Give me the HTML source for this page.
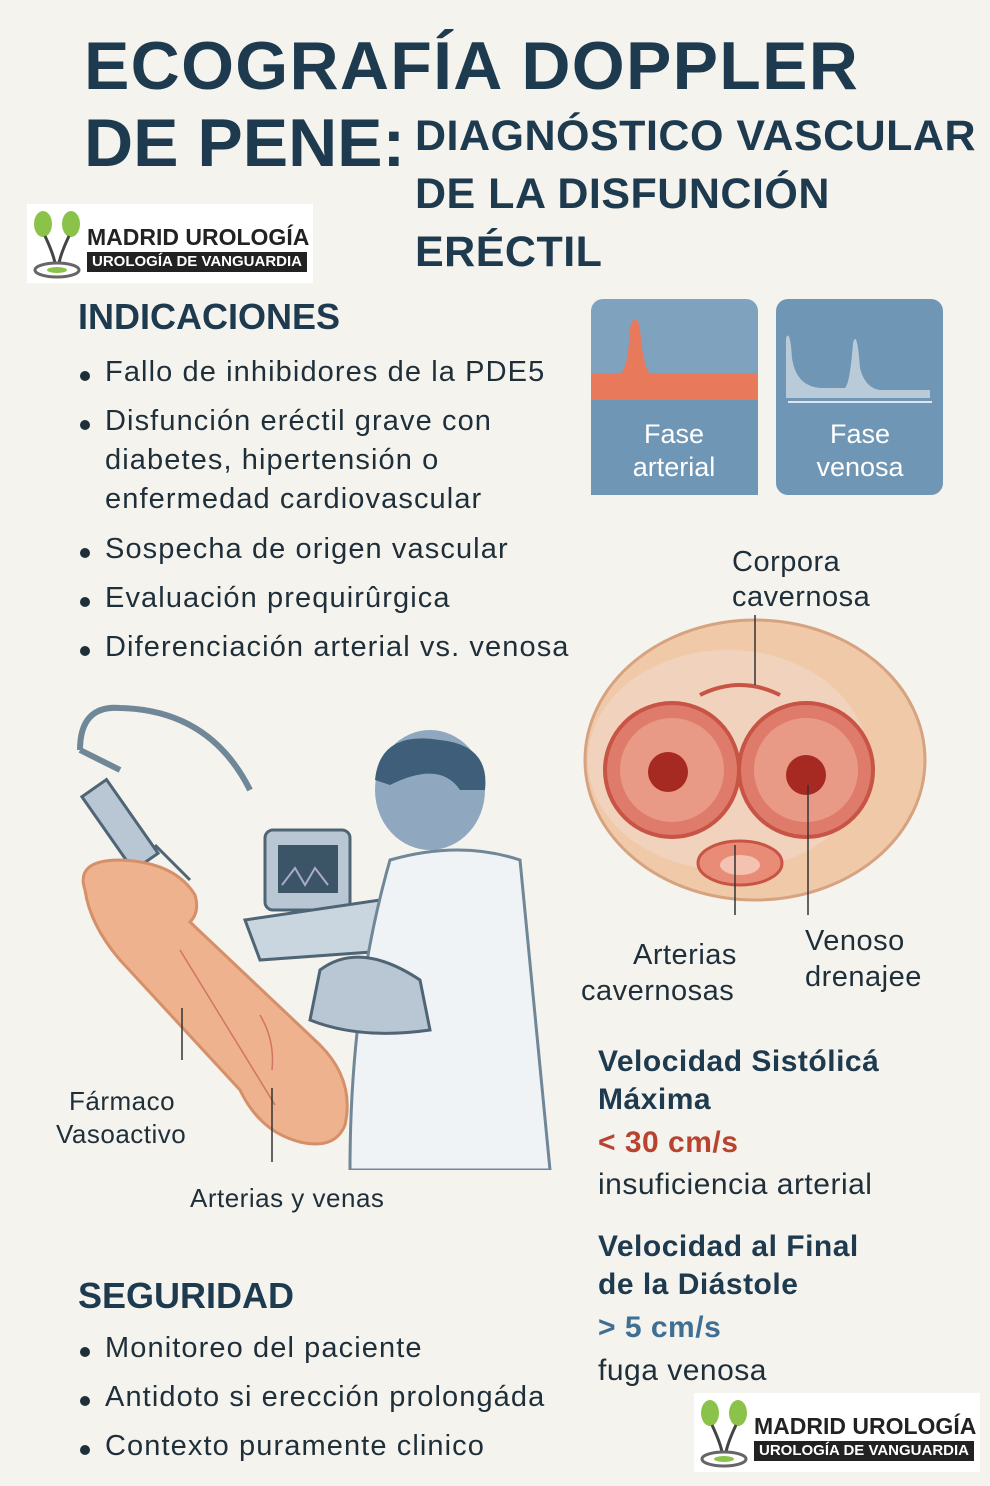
<!DOCTYPE html>
<html><head><meta charset="utf-8">
<style>
body{margin:0;background:#f5f3ee;}
#p{position:relative;width:990px;height:1486px;overflow:hidden;background:#f5f3ee;font-family:"Liberation Sans",sans-serif;color:#1f2f3a;}
.a{position:absolute;white-space:nowrap;}
.t1{font-weight:bold;color:#1e3a4f;font-size:68px;letter-spacing:1.3px;}
.t2{font-weight:bold;color:#1e3a4f;font-size:43px;letter-spacing:0.5px;}
.h{font-weight:bold;color:#1e3a4f;font-size:36px;}
.b{font-size:29px;color:#1f2f3a;letter-spacing:1.1px;}
.b::before{content:"";position:absolute;left:-25px;top:15px;width:10px;height:10px;border-radius:50%;background:#1f2f3a;}
.logo{position:absolute;background:#fff;}
.logo .n{position:absolute;left:60px;top:20px;font-weight:bold;font-size:23px;color:#222;}
.logo .s{position:absolute;left:60px;top:48px;width:220px;height:20px;background:#222;color:#fff;font-weight:bold;font-size:15px;text-align:center;line-height:20px;}
.r{font-size:30px;color:#1f2f3a;letter-spacing:0.5px;}
</style></head><body><div id="p">
<div class="a t1" style="left:84px;top:27px">ECOGRAFÍA DOPPLER</div>
<div class="a t1" style="left:84px;top:104px;letter-spacing:0">DE PENE:</div>
<div class="a t2" style="left:415px;top:112px">DIAGNÓSTICO VASCULAR</div>
<div class="a t2" style="left:415px;top:170px">DE LA DISFUNCIÓN</div>
<div class="a t2" style="left:415px;top:228px">ERÉCTIL</div>

<div class="logo" style="left:27px;top:204px;width:286px;height:79px">
<svg class="a" style="left:4px;top:4px" width="54" height="72"><ellipse cx="12" cy="16" rx="9" ry="13" fill="#8bc34a"/><ellipse cx="40" cy="16" rx="9" ry="13" fill="#8bc34a"/><path d="M14 28 Q22 45 24 55 M38 28 Q30 45 28 55" stroke="#444" stroke-width="3" fill="none"/><ellipse cx="26" cy="62" rx="22" ry="7" fill="none" stroke="#666" stroke-width="3"/><ellipse cx="26" cy="62" rx="10" ry="3" fill="#8bc34a"/></svg>
<div class="n">MADRID UROLOGÍA</div><div class="s">UROLOGÍA DE VANGUARDIA</div></div>

<div class="a h" style="left:78px;top:296px">INDICACIONES</div>
<div class="a b" style="left:105px;top:356px">Fallo de inhibidores de la PDE5</div>
<div class="a b" style="left:105px;top:405px">Disfunción eréctil grave con</div>
<div class="a" style="left:105px;top:444px;font-size:29px;letter-spacing:1.1px">diabetes, hipertensión o</div>
<div class="a" style="left:105px;top:483px;font-size:29px;letter-spacing:1.1px">enfermedad cardiovascular</div>
<div class="a b" style="left:105px;top:533px">Sospecha de origen vascular</div>
<div class="a b" style="left:105px;top:582px">Evaluación prequirûrgica</div>
<div class="a b" style="left:105px;top:631px">Diferenciación arterial vs. venosa</div>

<svg class="a" style="left:590px;top:298px" width="355" height="200">
<rect x="1" y="1" width="167" height="196" rx="12" fill="#7fa3bf"/>
<path d="M1 102 V75 H30 Q38 72 40 30 Q45 12 50 30 Q53 70 60 75 H167 V102Z" fill="#e8795a"/>
<rect x="1" y="102" width="167" height="95" fill="#6f97b5"/>
<rect x="186" y="1" width="167" height="196" rx="12" fill="#6f97b5"/>
<path d="M196 100 V40 Q200 30 202 60 Q206 88 230 90 H255 Q260 85 263 45 Q267 30 270 70 Q275 90 290 92 H340 V100Z" fill="#b9cbd8"/>
<line x1="198" y1="104" x2="342" y2="104" stroke="#dde6ee" stroke-width="2"/>
<text x="84" y="145" font-size="27" fill="#fff" text-anchor="middle" font-family="Liberation Sans">Fase</text>
<text x="84" y="178" font-size="27" fill="#fff" text-anchor="middle" font-family="Liberation Sans">arterial</text>
<text x="270" y="145" font-size="27" fill="#fff" text-anchor="middle" font-family="Liberation Sans">Fase</text>
<text x="270" y="178" font-size="27" fill="#fff" text-anchor="middle" font-family="Liberation Sans">venosa</text>
</svg>

<div class="a r" style="left:732px;top:546px;font-size:29px">Corpora</div>
<div class="a r" style="left:732px;top:581px;font-size:29px">cavernosa</div>
<svg class="a" style="left:580px;top:615px" width="360" height="300">
<ellipse cx="175" cy="145" rx="170" ry="140" fill="#efc9a8" stroke="#d7a27f" stroke-width="3"/>
<ellipse cx="148" cy="145" rx="140" ry="110" fill="#f1d3bd"/>
<circle cx="92" cy="155" r="67" fill="#df7b6a" stroke="#c75445" stroke-width="4"/>
<circle cx="226" cy="155" r="67" fill="#df7b6a" stroke="#c75445" stroke-width="4"/>
<circle cx="92" cy="155" r="52" fill="#e99a86"/>
<circle cx="226" cy="155" r="52" fill="#e99a86"/>
<circle cx="88" cy="157" r="20" fill="#a62a22"/>
<circle cx="226" cy="160" r="20" fill="#a62a22"/>
<ellipse cx="160" cy="248" rx="42" ry="22" fill="#e88c78" stroke="#c75445" stroke-width="3"/>
<ellipse cx="160" cy="250" rx="20" ry="10" fill="#f4c2b0"/>
<path d="M120 80 Q160 60 200 80" stroke="#c75445" stroke-width="4" fill="none"/>
<line x1="175" y1="0" x2="175" y2="70" stroke="#333" stroke-width="1.5"/>
<line x1="155" y1="230" x2="155" y2="320" stroke="#333" stroke-width="1.5"/>
<line x1="228" y1="170" x2="228" y2="300" stroke="#333" stroke-width="1.5"/>
</svg>
<div class="a r" style="left:633px;top:939px;font-size:29px">Arterias</div>
<div class="a r" style="left:581px;top:975px;font-size:29px">cavernosas</div>
<div class="a r" style="left:805px;top:925px;font-size:29px">Venoso</div>
<div class="a r" style="left:805px;top:961px;font-size:29px">drenajee</div>

<svg class="a" style="left:60px;top:700px" width="500" height="470">
<path d="M20 50 Q20 5 60 8 Q150 10 190 90" stroke="#6f8797" stroke-width="6" fill="none"/>
<path d="M20 50 L60 70" stroke="#6f8797" stroke-width="6"/>
<rect x="45" y="80" width="30" height="90" transform="rotate(-35 60 125)" fill="#b8c7d3" stroke="#4f6474" stroke-width="3"/>
<line x1="95" y1="145" x2="130" y2="180" stroke="#4f6474" stroke-width="3"/>
<path d="M25 190 Q15 160 60 160 Q115 162 135 195 Q140 212 130 222 L260 345 Q295 380 285 425 Q275 450 240 442 Q200 432 180 390 L60 260 Q30 225 25 190Z" fill="#eeb28e" stroke="#d5906a" stroke-width="3"/>
<path d="M120 250 L215 405 M200 315 Q215 340 212 370" stroke="#d07565" stroke-width="1.5" fill="none"/>
<rect x="205" y="130" width="85" height="80" rx="8" fill="#b8c7d3" stroke="#4f6474" stroke-width="3"/>
<rect x="218" y="145" width="60" height="48" fill="#3b5566"/>
<path d="M222 185 L235 168 L245 185 L255 168 L268 185" stroke="#aac" fill="none" stroke-width="2"/>
<path d="M185 220 L320 200 L340 250 L200 260Z" fill="#c9d6e0" stroke="#4f6474" stroke-width="3"/>
<ellipse cx="370" cy="90" rx="55" ry="60" fill="#8fa8bf"/>
<path d="M315 80 Q320 30 380 40 Q430 45 425 90 L400 90 Q380 60 330 85Z" fill="#3e5e7a"/>
<path d="M330 160 Q400 140 460 160 L490 470 L290 470 Q290 300 330 160Z" fill="#f0f3f6" stroke="#6f8797" stroke-width="3"/>
<path d="M260 270 Q300 240 360 280 L370 330 Q300 340 250 320Z" fill="#b8c7d3" stroke="#4f6474" stroke-width="3"/>
<line x1="122" y1="308" x2="122" y2="360" stroke="#333" stroke-width="1.5"/>
<line x1="212" y1="388" x2="212" y2="462" stroke="#333" stroke-width="1.5"/>
</svg>
<div class="a" style="left:69px;top:1086px;font-size:26px;letter-spacing:0.5px">Fármaco</div>
<div class="a" style="left:56px;top:1119px;font-size:26px;letter-spacing:0.5px">Vasoactivo</div>
<div class="a" style="left:190px;top:1183px;font-size:26px;letter-spacing:0.5px">Arterias y venas</div>

<div class="a r" style="left:598px;top:1045px;font-weight:bold;color:#1e3a4f">Velocidad Sistólicá</div>
<div class="a r" style="left:598px;top:1083px;font-weight:bold;color:#1e3a4f">Máxima</div>
<div class="a r" style="left:598px;top:1126px;font-weight:bold;color:#b8432f">&lt; 30 cm/s</div>
<div class="a r" style="left:598px;top:1168px">insuficiencia arterial</div>
<div class="a r" style="left:598px;top:1230px;font-weight:bold;color:#1e3a4f">Velocidad al Final</div>
<div class="a r" style="left:598px;top:1268px;font-weight:bold;color:#1e3a4f">de la Diástole</div>
<div class="a r" style="left:598px;top:1311px;font-weight:bold;color:#3f6f92">&gt; 5 cm/s</div>
<div class="a r" style="left:598px;top:1354px">fuga venosa</div>

<div class="a h" style="left:78px;top:1275px">SEGURIDAD</div>
<div class="a b" style="left:105px;top:1332px">Monitoreo del paciente</div>
<div class="a b" style="left:105px;top:1381px">Antidoto si erección prolongáda</div>
<div class="a b" style="left:105px;top:1430px">Contexto puramente clinico</div>

<div class="logo" style="left:694px;top:1393px;width:286px;height:79px">
<svg class="a" style="left:4px;top:4px" width="54" height="72"><ellipse cx="12" cy="16" rx="9" ry="13" fill="#8bc34a"/><ellipse cx="40" cy="16" rx="9" ry="13" fill="#8bc34a"/><path d="M14 28 Q22 45 24 55 M38 28 Q30 45 28 55" stroke="#444" stroke-width="3" fill="none"/><ellipse cx="26" cy="62" rx="22" ry="7" fill="none" stroke="#666" stroke-width="3"/><ellipse cx="26" cy="62" rx="10" ry="3" fill="#8bc34a"/></svg>
<div class="n">MADRID UROLOGÍA</div><div class="s">UROLOGÍA DE VANGUARDIA</div></div>
</div></body></html>
